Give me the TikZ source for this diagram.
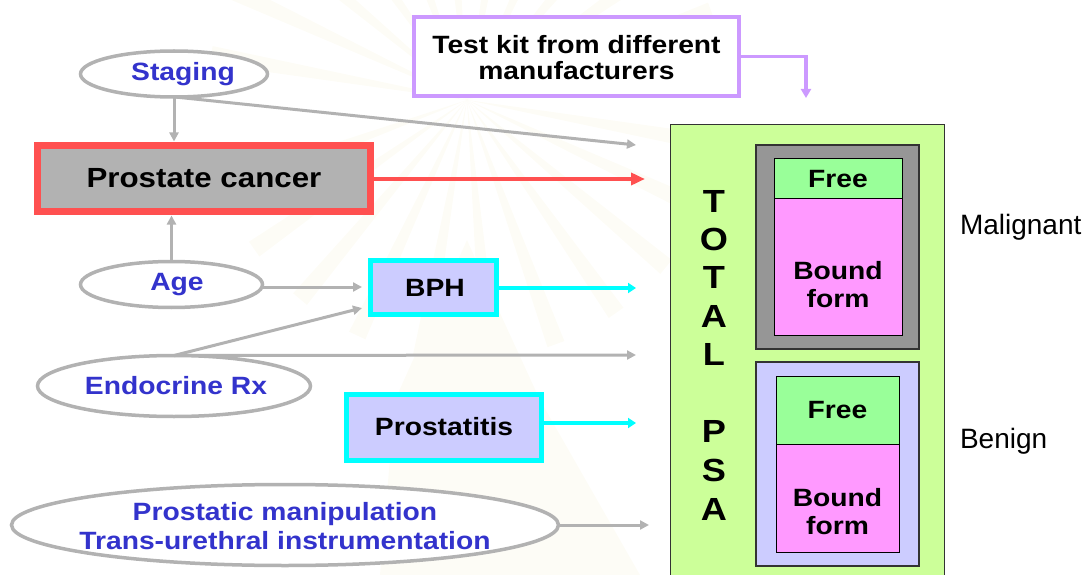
\documentclass[tikz,border=0pt]{standalone}
\usepackage{fontspec}
\setmainfont{Liberation Sans}
\newfontfamily\widebold{Liberation Sans Bold}[FakeStretch=1.13]
\usetikzlibrary{shapes.geometric,arrows.meta}
\definecolor{cgray}{HTML}{B2B2B2}
\definecolor{cred}{HTML}{FF5050}
\definecolor{ccyan}{HTML}{00FFFF}
\definecolor{cblue}{HTML}{3333CC}
\definecolor{cpurple}{HTML}{CC99FF}
\definecolor{clav}{HTML}{CCCCFF}
\definecolor{clime}{HTML}{CCFF99}
\definecolor{cgreen}{HTML}{99FF99}
\definecolor{cpink}{HTML}{FF99FF}
\definecolor{cdark}{HTML}{969696}
\definecolor{cwater}{HTML}{FDFCF6}
\newcommand{\wb}[1]{\widebold\fontsize{#1}{#1}\selectfont}
\newcommand{\up}[2]{\raisebox{#1}{#2}}
\tikzset{
  every node/.style={inner sep=0pt,outer sep=0pt,align=center},
  oval/.style={ellipse,draw=cgray,line width=3.5pt,fill=white,text=cblue,font=\wb{25}},
  cyanbox/.style={rectangle,draw=ccyan,line width=5pt,fill=clav,font=\wb{25}},
  inbox/.style={rectangle,draw=black,line width=1pt,font=\wb{25}},
  outbox/.style={rectangle,draw=black!80,line width=1pt},
  letter/.style={font=\wb{32}},
  side/.style={font=\fontsize{28}{28}\selectfont,anchor=west},
  grayarrow/.style={draw=cgray,line width=3pt,-{Triangle[length=9pt,width=9pt]}},
  redarrow/.style={draw=cred,line width=3.5pt,-{Triangle[length=14pt,width=12pt]}},
  cyanarrow/.style={draw=ccyan,line width=3.5pt,-{Triangle[length=8pt,width=10pt]}},
  purplearrow/.style={draw=cpurple,line width=3.5pt,-{Triangle[length=9pt,width=10pt]}},
}
\begin{document}
\begin{tikzpicture}[x=1pt,y=-1pt]
\useasboundingbox (0,0) rectangle (1085,575);
% watermark
\foreach \a in {-170,-155,...,-10,10,25,...,170}{
  \fill[cwater] (467,100) -- ++(\a-2:260) -- ++(\a+90:18) -- cycle;
}
\fill[cwater] (380,575) -- (395,400) -- (440,300) -- (467,240) -- (494,300) -- (540,400) -- (640,575) -- cycle;
% right block
\node[outbox,fill=clime,minimum width=274pt,minimum height=470pt] (psa) at (807,360) {};
\node[outbox,fill=cdark,line width=1.5pt,minimum width=163pt,minimum height=204pt] (mal) at (837.5,247) {};
\node[inbox,fill=cgreen,minimum width=128pt,minimum height=40pt] (free1) at (838,179) {\up{-1.5pt}{Free}};
\node[inbox,fill=cpink,minimum width=128pt,minimum height=136pt] (bound1) at (838,267) {\rule{0pt}{54pt}Bound\\[3pt]form};
\node[outbox,fill=clav,line width=1.5pt,minimum width=163pt,minimum height=204pt] (ben) at (837.5,464) {};
\node[inbox,fill=cgreen,minimum width=123pt,minimum height=68pt] (free2) at (837.5,410) {\up{-0.5pt}{Free}};
\node[inbox,fill=cpink,minimum width=123pt,minimum height=108pt] (bound2) at (837.5,498) {\rule{0pt}{45pt}Bound\\[3pt]form};
\foreach \l/\y/\n in {T/201/a,O/239/b,T/277/c,A/316/d,L/354/e,P/431/f,S/470/g,A/509/h}{
  \node[letter] (psa\n) at (714,\y) {\l};
}
\node[side] (malignant) at (960,227.5) {Malignant};
\node[side] (benign) at (960,441.5) {Benign};
% left nodes
\node[oval,minimum width=187pt,minimum height=46pt] (staging) at (174,74) {\hspace*{18pt}\up{-2pt}{Staging}};
\node[rectangle,draw=cred,line width=7pt,fill=cgray,minimum width=333pt,minimum height=66pt,font=\wb{27.7}] (cancer) at (204,178.5) {\up{-1.5pt}{Prostate cancer}};
\node[oval,minimum width=182pt,minimum height=46pt] (age) at (171.5,284.5) {\hspace*{11pt}\up{-1pt}{Age}};
\node[cyanbox,minimum width=126pt,minimum height=54pt] (bph) at (433.5,287.5) {\hspace*{3pt}\up{-5pt}{BPH}};
\node[oval,minimum width=273pt,minimum height=61pt] (endo) at (174,386) {\hspace*{4pt}\up{2pt}{Endocrine Rx}};
\node[cyanbox,minimum width=195pt,minimum height=66pt] (prostatitis) at (444,427.5) {\up{2pt}{Prostatitis}};
\node[oval,inner xsep=-30pt,inner ysep=-6pt,minimum width=547pt,minimum height=81pt] (manip) at (285,525) {\rule{0pt}{20pt}Prostatic manipulation\\[4pt]Trans-urethral instrumentation};
\node[rectangle,draw=cpurple,line width=4pt,fill=white,minimum width=325pt,minimum height=79pt,font=\wb{25}] (kit) at (576.5,56.5) {\rule{0pt}{21pt}Test kit from different\\[1pt]manufacturers};
% free ends
\coordinate (endA) at (636,145);
\coordinate (endB) at (645,179);
\coordinate (endC) at (636,288);
\coordinate (endD) at (636,355);
\coordinate (endE) at (636,423);
\coordinate (endF) at (649,525);
\coordinate (endG) at (806,98);
\coordinate (bphIn) at (362,287);
\coordinate (bphIn2) at (362,308);
% connectors
\draw[grayarrow,shorten >=4pt] (staging.south) -- (staging.south |- cancer.north);
\draw[grayarrow] (staging.south) ++(1,0) -- (endA);
\draw[grayarrow,shorten >=4pt] (age.north) -- (age.north |- cancer.south);
\draw[redarrow] (cancer.east |- endB) -- (endB);
\draw[grayarrow] (age.east |- bphIn) -- (bphIn);
\draw[cyanarrow] (bph.east |- endC) -- (endC);
\draw[grayarrow] (endo.north) -- (bphIn2);
\draw[grayarrow] (endo.north) -- (endD);
\draw[cyanarrow] (prostatitis.east |- endE) -- (endE);
\draw[grayarrow] (manip.east) -- (endF);
\draw[purplearrow] (kit.east) -- (kit.east -| endG) -- (endG);
\end{tikzpicture}
\end{document}
